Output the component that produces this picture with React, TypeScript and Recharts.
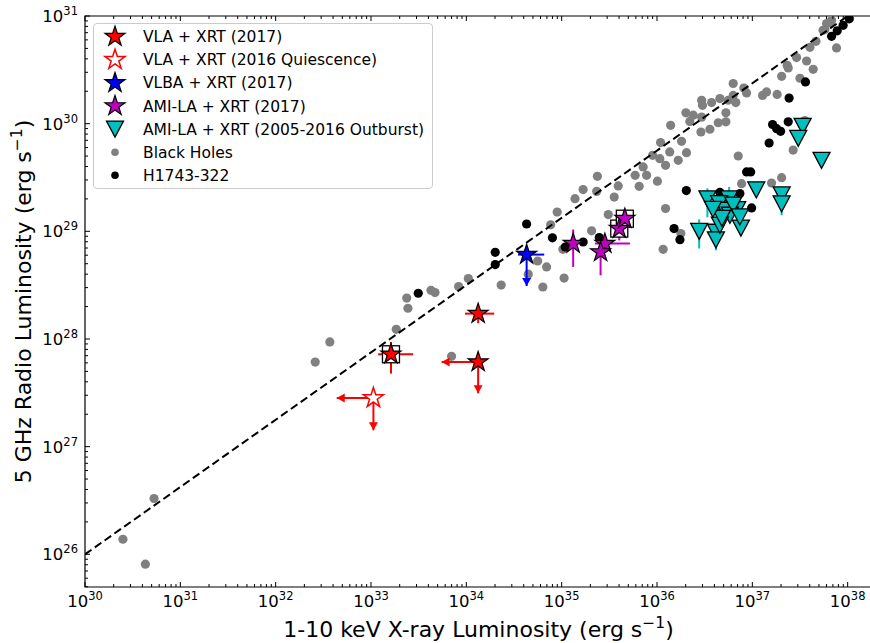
import React from 'react';
import { ScatterChart, Scatter, XAxis, YAxis, ErrorBar, ReferenceArea, Legend } from 'recharts';

// axis ranges (log scale)
const X_DOMAIN: [number, number] = [1e30, 1.8e38];
const Y_DOMAIN: [number, number] = [4.97e25, 1e31];
const X_EXPONENTS = [30, 31, 32, 33, 34, 35, 36, 37, 38];
const Y_EXPONENTS = [26, 27, 28, 29, 30, 31];
const MINOR_MANTISSAS = [2, 3, 4, 5, 6, 7, 8, 9];

// dashed reference correlation
const correlation: [number, number][] = [[1e30, 1e26], [1e38, 1e31]];

// Black Holes sample (L_X, L_R)
const blackHoles: [number, number][] = [
  [2.5e30, 1.38e26], [4.3e30, 8.1e25], [5.3e30, 3.3e26], [2.6e32, 6.1e27], [3.7e32, 9.4e27],
  [1.84e33, 1.23e28], [2.37e33, 2.4e28], [2.44e33, 1.93e28], [4.26e33, 2.83e28], [4.69e33, 2.7e28],
  [8.3e33, 3.07e28], [1.05e34, 3.64e28], [7.0e33, 6.9e27], [2.32e34, 3.17e28], [4.46e34, 4.0e28],
  [5.6e34, 5.3e28], [6.95e34, 4.67e28], [6.35e34, 3.04e28], [1.06e35, 3.68e28], [7.66e34, 1.15e29],
  [1.03e35, 6.8e28], [8.97e34, 1.51e29], [1.38e35, 2.01e29], [1.68e35, 2.44e29], [2.37e35, 3.24e29],
  [2.33e35, 2.35e29], [3.56e35, 2.08e29], [3.92e35, 2.64e29], [5.9e35, 3.31e29], [6.5e35, 2.62e29],
  [7.16e35, 3.96e29], [7.78e35, 3.31e29], [9.0e35, 5.08e29], [1.01e36, 2.92e29], [1.07e36, 4.73e29],
  [1.23e36, 4.1e29], [1.09e36, 6.67e29], [1.36e36, 5.46e29], [1.67e36, 4.57e29], [1.81e36, 6.86e29],
  [2.04e36, 5.38e29], [1.39e36, 9.66e29], [2.01e36, 1.26e30], [2.21e36, 1.05e30], [2.4e36, 1.2e30],
  [2.94e36, 1.15e30], [2.89e36, 8.37e29], [3.59e36, 8.87e29], [4.39e36, 1.02e30], [5.28e36, 1.04e30],
  [5.28e36, 1.26e30], [2.94e36, 1.65e30], [3.0e36, 1.48e30], [3.74e36, 1.57e30], [4.57e36, 1.71e30],
  [5.58e36, 1.65e30], [6.71e36, 1.57e30], [6.3e36, 2.36e30], [6.3e36, 1.83e30], [8.15e36, 2.14e30],
  [8.7e36, 1.93e30], [1.28e37, 1.83e30], [1.41e37, 1.97e30], [1.82e37, 1.87e30], [2.03e37, 2.75e30],
  [2.38e37, 3.29e30], [2.91e37, 4.11e30], [3.71e37, 3.82e30], [4.35e37, 3.2e30], [4.02e37, 5.12e30],
  [4.65e37, 5.82e30], [5.77e37, 7.48e30], [6.01e37, 8.5e30], [6.62e37, 8.69e30], [7.64e37, 5.05e30],
  [2.68e37, 5.69e29], [3.56e37, 1.07e30], [7.11e36, 5.01e29], [1.23e36, 1.63e29], [7.71e36, 2.77e29],
  [1.59e37, 2.81e29], [2.03e37, 3.15e29], [3.08e35, 1.43e29], [1.16e36, 6.81e28], [2.06e35, 1.01e29],
  [1.78e36, 9.53e28], [5.52e37, 7.36e30], [6.78e37, 9.12e30], [2.32e37, 3.48e30], [3.16e37, 2.64e30],
];

// H1743-322 archival
const h1743: [number, number][] = [
  [3.13e33, 2.66e28], [2.01e34, 6.38e28], [2.01e34, 4.91e28], [4.29e34, 1.17e29], [8.0e34, 8.71e28],
  [1.09e35, 7.15e28], [1.68e35, 7.96e28], [2.48e35, 8.75e28], [1.51e36, 1.06e29], [1.74e36, 8.37e28],
  [2.03e36, 2.39e29], [8.71e36, 3.56e29], [9.6e36, 3.56e29], [9.82e36, 1.65e29], [1.5e37, 6.61e29],
  [1.63e37, 9.8e29], [1.8e37, 8.99e29], [1.98e37, 8.49e29], [2.38e37, 1.04e30], [2.43e37, 1.73e30],
  [3.61e37, 2.44e30], [6.78e37, 6.47e30], [7.77e37, 7.29e30], [8.97e37, 8.2e30], [1.04e38, 9.42e30],
  [4.57e36, 2.3e29], [7.4e36, 2.24e29],
];

type Obs = { x: number; y: number; xErr?: [number, number]; yErr?: [number, number]; xLim?: number; yLim?: number };

const amiOutburst: Obs[] = [
  { x: 3.38e36, y: 2.0e29, yErr: [1.35e29, 2.51e29] },
  { x: 5.71e36, y: 2.0e29, yErr: [1.5e29, 2.58e29] },
  { x: 1.1e37, y: 2.43e29 },
  { x: 2.03e37, y: 2.18e29 },
  { x: 2.03e37, y: 1.8e29, yErr: [1.41e29, 2.25e29] },
  { x: 2.77e36, y: 1.0e29, yErr: [6.92e28, 1.29e29] },
  { x: 4.15e36, y: 9.8e28 },
  { x: 4.15e36, y: 8.34e28, yErr: [6.67e28, 1.07e29] },
  { x: 7.59e36, y: 1.07e29 },
  { x: 6.93e36, y: 1.59e29 },
  { x: 4.49e36, y: 1.81e29 },
  { x: 5.15e36, y: 1.57e29 },
  { x: 5.82e36, y: 1.41e29 },
  { x: 4.57e36, y: 1.14e29 },
  { x: 6.3e36, y: 1.75e29 },
  { x: 7.4e36, y: 1.36e29 },
  { x: 4.8e36, y: 1.32e29 },
  { x: 3.86e36, y: 1.6e29 },
  { x: 3.37e37, y: 9.45e29 },
  { x: 3.03e37, y: 7.31e29 },
  { x: 5.32e37, y: 4.57e29 },
];

const vla2017: Obs[] = [
  { x: 1.33e34, y: 1.72e28, xErr: [9.66e33, 1.96e34], yErr: [1.4e28, 2.01e28] },
  { x: 1.62e33, y: 7.21e27, xErr: [1.19e33, 2.77e33], yErr: [4.77e27, 9.38e27] },
  { x: 1.33e34, y: 6.11e27, xLim: 5.51e33, yLim: 3.13e27 },
];
const vlaQuiescence: Obs[] = [{ x: 1.06e33, y: 2.83e27, xLim: 4.37e32, yLim: 1.42e27 }];
const vlba2017: Obs[] = [{ x: 4.29e34, y: 6.08e28, xErr: [3.48e34, 6.56e34], yLim: 3.1e28 }];
const amila2017: Obs[] = [
  { x: 1.32e35, y: 7.69e28, yErr: [4.67e28, 1.04e29] },
  { x: 2.84e35, y: 7.69e28, xErr: [2.23e35, 5.2e35], yErr: [6.9e28, 8.6e28] },
  { x: 2.56e35, y: 6.43e28, yErr: [3.9e28, 8.8e28] },
  { x: 4.02e35, y: 1.06e29, yErr: [8.24e28, 1.26e29] },
  { x: 4.6e35, y: 1.31e29 },
];
// quasi-simultaneous epochs marked with a square
const boxed: Obs[] = [vla2017[1], amila2017[3], amila2017[4]];

const LEGEND_LABELS = [
  'VLA + XRT (2017)',
  'VLA + XRT (2016 Quiescence)',
  'VLBA + XRT (2017)',
  'AMI-LA + XRT (2017)',
  'AMI-LA + XRT (2005-2016 Outburst)',
  'Black Holes',
  'H1743-322',
];

const RED = '#ff0000';
const BLUE = '#0000ff';
const MAGENTA = '#bf00bf';
const CYAN = '#00bfbf';
const GRAY = '#808080';
const FONT = 'DejaVu Sans, sans-serif';

const PLOT_TOP = 16;
const PLOT_BOTTOM = 587;
const PLOT_LEFT = 85;
const PLOT_RIGHT = 872;

const pairs = (arr: [number, number][]) => arr.map(([x, y]) => ({ x, y }));
const withErr = (arr: Obs[]) =>
  arr.map((d) => ({
    x: d.x,
    y: d.y,
    xe: d.xErr ? [d.x - d.xErr[0], d.xErr[1] - d.x] : [0, 0],
    ye: d.yErr ? [d.y - d.yErr[0], d.yErr[1] - d.y] : [0, 0],
  }));
const arrowsOf = (arr: Obs[]) => {
  const out: any[][] = [];
  arr.forEach((p) => {
    if (p.xLim) out.push([{ x: p.x, y: p.y }, { x: p.xLim, y: p.y, head: 'left' }]);
    if (p.yLim) out.push([{ x: p.x, y: p.y }, { x: p.x, y: p.yLim, head: 'down' }]);
  });
  return out;
};

const logTicks = (exps: number[], min: number, max: number) => {
  const t: number[] = [];
  exps.forEach((e) => {
    t.push(Math.pow(10, e));
    MINOR_MANTISSAS.forEach((m) => t.push(m * Math.pow(10, e)));
  });
  MINOR_MANTISSAS.forEach((m) => t.push(m * Math.pow(10, exps[0] - 1)));
  return t.filter((v) => v >= min && v <= max).sort((a, b) => a - b);
};
const X_TICKS = logTicks(X_EXPONENTS, X_DOMAIN[0], X_DOMAIN[1]);
const Y_TICKS = logTicks(Y_EXPONENTS, Y_DOMAIN[0], Y_DOMAIN[1]);

const majorExp = (v: number) => {
  const lg = Math.log10(v);
  const e = Math.round(lg);
  return Math.abs(lg - e) < 1e-6 ? e : null;
};

const XTick = (props: any) => {
  const x = props.x;
  const e = majorExp(props.payload.value);
  const len = e !== null ? 5 : 3;
  return (
    <g>
      <line x1={x} x2={x} y1={PLOT_BOTTOM} y2={PLOT_BOTTOM - len} stroke="#000" strokeWidth={1} />
      <line x1={x} x2={x} y1={PLOT_TOP} y2={PLOT_TOP + len} stroke="#000" strokeWidth={1} />
      {e !== null && (
        <text x={x} y={PLOT_BOTTOM + 20} textAnchor="middle" fontSize={16.5} fontFamily={FONT} fill="#000">
          10<tspan dy={-7} fontSize={11.5}>{e}</tspan>
        </text>
      )}
    </g>
  );
};

const YTick = (props: any) => {
  const y = props.y;
  const e = majorExp(props.payload.value);
  const len = e !== null ? 5 : 3;
  return (
    <g>
      <line x1={PLOT_LEFT} x2={PLOT_LEFT + len} y1={y} y2={y} stroke="#000" strokeWidth={1} />
      {e !== null && (
        <text x={78} y={y + 6} textAnchor="end" fontSize={16.5} fontFamily={FONT} fill="#000">
          10<tspan dy={-7} fontSize={11.5}>{e}</tspan>
        </text>
      )}
    </g>
  );
};

const starPath = (cx: number, cy: number, R: number) => {
  const r = R * 0.382;
  let d = '';
  for (let i = 0; i < 10; i++) {
    const a = -Math.PI / 2 + (i * Math.PI) / 5;
    const rr = i % 2 === 0 ? R : r;
    d += (i ? 'L' : 'M') + (cx + rr * Math.cos(a)).toFixed(2) + ',' + (cy + rr * Math.sin(a)).toFixed(2);
  }
  return d + 'Z';
};

const starShape = (fill: string, stroke: string, sw = 1.2) => (p: any) =>
  <path d={starPath(p.cx, p.cy, 10.5)} fill={fill} stroke={stroke} strokeWidth={sw} />;

const triPath = (cx: number, cy: number) => `M${cx - 8.5},${cy - 8}L${cx + 8.5},${cy - 8}L${cx},${cy + 8}Z`;
const triShape = (p: any) => <path d={triPath(p.cx, p.cy)} fill={CYAN} stroke="#000" strokeWidth={1.3} />;
const dotShape = (color: string) => (p: any) => <circle cx={p.cx} cy={p.cy} r={4.6} fill={color} />;
const boxShape = (p: any) => (
  <rect x={p.cx - 8.5} y={p.cy - 8.5} width={17} height={17} fill="#fff" stroke="#000" strokeWidth={1.3} />
);
const noShape = () => <g />;

const arrowHead = (color: string) => (p: any) => {
  const head = p.payload?.head ?? p.head;
  if (head === 'down')
    return <path d={`M${p.cx - 4.5},${p.cy - 8}L${p.cx + 4.5},${p.cy - 8}L${p.cx},${p.cy}Z`} fill={color} />;
  if (head === 'left')
    return <path d={`M${p.cx + 8},${p.cy - 4.5}L${p.cx + 8},${p.cy + 4.5}L${p.cx},${p.cy}Z`} fill={color} />;
  return <g />;
};

const renderArrows = (arr: Obs[], color: string, key: string) =>
  arrowsOf(arr).map((d, i) => (
    <Scatter
      key={`${key}-${i}`}
      data={d}
      line={{ stroke: color, strokeWidth: 2 }}
      shape={arrowHead(color)}
      isAnimationActive={false}
    />
  ));

const legendMarkers = [
  (cx: number, cy: number) => <path d={starPath(cx, cy, 10.5)} fill={RED} stroke="#000" strokeWidth={1.2} />,
  (cx: number, cy: number) => <path d={starPath(cx, cy, 10.5)} fill="#fff" stroke={RED} strokeWidth={1.5} />,
  (cx: number, cy: number) => <path d={starPath(cx, cy, 10.5)} fill={BLUE} stroke="#000" strokeWidth={1.2} />,
  (cx: number, cy: number) => <path d={starPath(cx, cy, 10.5)} fill={MAGENTA} stroke="#000" strokeWidth={1.2} />,
  (cx: number, cy: number) => <path d={triPath(cx, cy)} fill={CYAN} stroke="#000" strokeWidth={1.3} />,
  (cx: number, cy: number) => <circle cx={cx} cy={cy} r={3.8} fill={GRAY} />,
  (cx: number, cy: number) => <circle cx={cx} cy={cy} r={3.8} fill="#000" />,
];

const LegendBox = () => (
  <div
    style={{
      width: 340,
      height: 166,
      boxSizing: 'border-box',
      border: '1px solid #cccccc',
      borderRadius: 4,
      background: 'rgba(255,255,255,0.8)',
    }}
  >
    <svg width={338} height={164} style={{ display: 'block' }}>
      {LEGEND_LABELS.map((label, i) => {
        const cy = 12.7 + i * 23.1;
        return (
          <g key={label}>
            {legendMarkers[i](21, cy)}
            <text x={49} y={cy + 5.5} fontSize={15.5} fontFamily={FONT} fill="#000">
              {label}
            </text>
          </g>
        );
      })}
    </svg>
  </div>
);

const XLabel = () => (
  <text x={(PLOT_LEFT + 870) / 2 + 1} y={637} textAnchor="middle" fontSize={22} fontFamily={FONT} fill="#000">
    1-10 keV X-ray Luminosity (erg s<tspan dy={-9} fontSize={15.5}>−1</tspan>
    <tspan dy={9}>)</tspan>
  </text>
);

const YLabel = () => (
  <text
    transform={`translate(31, ${(PLOT_TOP + PLOT_BOTTOM) / 2}) rotate(-90)`}
    x={0}
    y={0}
    textAnchor="middle"
    fontSize={22}
    fontFamily={FONT}
    fill="#000"
  >
    5 GHz Radio Luminosity (erg s<tspan dy={-9} fontSize={15.5}>−1</tspan>
    <tspan dy={9}>)</tspan>
  </text>
);

const App = () => {
  return (
    <div
      style={{
        position: 'absolute',
        left: 0,
        top: 0,
        width: 870,
        height: 643,
        overflow: 'hidden',
        background: '#fff',
        fontFamily: FONT,
      }}
    >
      <ScatterChart width={PLOT_RIGHT} height={643} margin={{ top: PLOT_TOP, right: 0, bottom: 0, left: 0 }}>
        <XAxis
          type="number"
          dataKey="x"
          scale="log"
          domain={X_DOMAIN}
          allowDataOverflow
          ticks={X_TICKS}
          interval={0}
          tick={<XTick />}
          tickLine={false}
          axisLine={false}
          height={643 - PLOT_BOTTOM}
          label={{ content: () => <XLabel /> }}
        />
        <YAxis
          type="number"
          dataKey="y"
          scale="log"
          domain={Y_DOMAIN}
          allowDataOverflow
          ticks={Y_TICKS}
          interval={0}
          tick={<YTick />}
          tickLine={false}
          axisLine={false}
          width={PLOT_LEFT}
          label={{ content: () => <YLabel /> }}
        />
        <ReferenceArea
          x1={X_DOMAIN[0]}
          x2={X_DOMAIN[1]}
          y1={Y_DOMAIN[0]}
          y2={Y_DOMAIN[1]}
          fill="none"
          stroke="#000"
          strokeWidth={1.2}
          ifOverflow="visible"
        />
        <Legend
          layout="vertical"
          align="center"
          verticalAlign="middle"
          content={() => <LegendBox />}
          wrapperStyle={{ left: 93, top: 23, width: 340, height: 166 }}
        />

        <Scatter data={pairs(blackHoles)} shape={dotShape(GRAY)} isAnimationActive={false} />
        <Scatter data={pairs(h1743)} shape={dotShape('#000')} isAnimationActive={false} />
        <Scatter
          data={pairs(correlation)}
          line={{ stroke: '#000', strokeWidth: 2, strokeDasharray: '8 4' }}
          shape={noShape}
          isAnimationActive={false}
        />

        <Scatter data={withErr(amiOutburst)} shape={triShape} isAnimationActive={false}>
          <ErrorBar dataKey="ye" direction="y" width={0} stroke={CYAN} strokeWidth={2} />
        </Scatter>

        <Scatter data={withErr(boxed)} shape={boxShape} isAnimationActive={false} />

        {renderArrows(vla2017, RED, 'vla')}
        {renderArrows(vlaQuiescence, RED, 'vlaq')}
        {renderArrows(vlba2017, BLUE, 'vlba')}

        <Scatter data={withErr(vla2017)} shape={starShape(RED, '#000')} isAnimationActive={false}>
          <ErrorBar dataKey="xe" direction="x" width={0} stroke={RED} strokeWidth={2} />
          <ErrorBar dataKey="ye" direction="y" width={0} stroke={RED} strokeWidth={2} />
        </Scatter>
        <Scatter data={withErr(vlaQuiescence)} shape={starShape('#fff', RED, 1.5)} isAnimationActive={false} />
        <Scatter data={withErr(vlba2017)} shape={starShape(BLUE, '#000')} isAnimationActive={false}>
          <ErrorBar dataKey="xe" direction="x" width={0} stroke={BLUE} strokeWidth={2} />
        </Scatter>
        <Scatter data={withErr(amila2017)} shape={starShape(MAGENTA, '#000')} isAnimationActive={false}>
          <ErrorBar dataKey="xe" direction="x" width={0} stroke={MAGENTA} strokeWidth={2} />
          <ErrorBar dataKey="ye" direction="y" width={0} stroke={MAGENTA} strokeWidth={2} />
        </Scatter>
      </ScatterChart>
    </div>
  );
};

export default App;
